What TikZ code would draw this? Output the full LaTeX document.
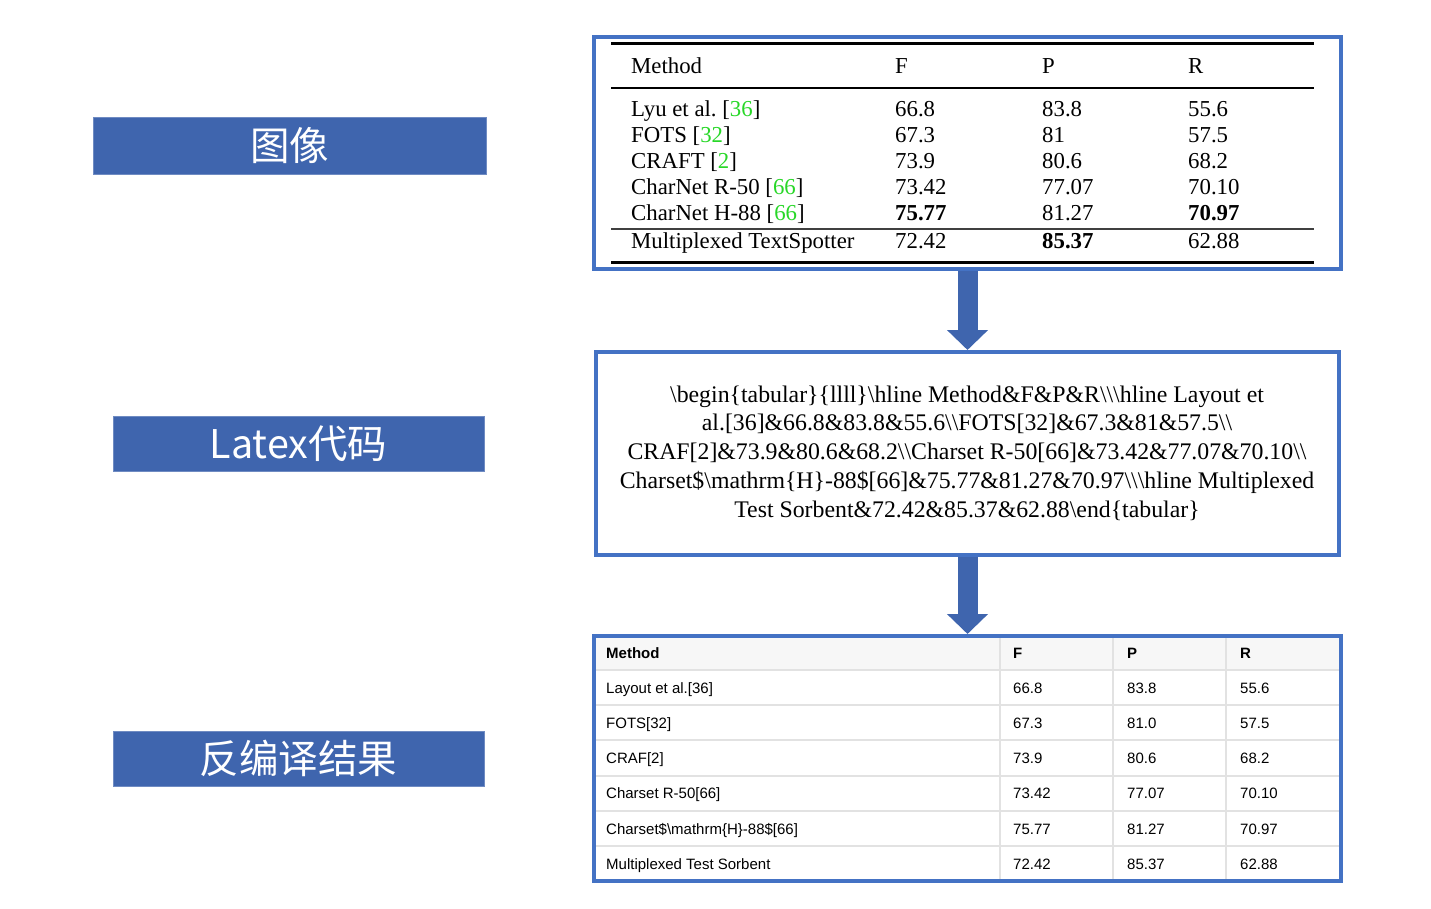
\documentclass[tikz,border=0pt]{standalone}
\usepackage{fontspec}
\setmainfont{Liberation Serif}
\newfontfamily\cjkfont{Noto Sans CJK SC}
\newfontfamily\tabsans{Liberation Sans}
\usetikzlibrary{arrows.meta}
\definecolor{frameblue}{RGB}{68,114,196}
\definecolor{labelblue}{RGB}{63,101,174}
\definecolor{citegreen}{RGB}{40,215,40}
\definecolor{gridgray}{RGB}{226,226,226}
\definecolor{headgray}{RGB}{247,247,247}
\newcommand{\cg}[1]{\textcolor{citegreen}{#1}}
\newcommand{\bs}{\textbackslash}
\frenchspacing
\tikzset{
  framebox/.style={draw=frameblue, line width=4pt, inner sep=0pt, fill=none},
  labelbox/.style={fill=labelblue, draw=labelblue!75!white, line width=0.8pt, text=white,
    font=\cjkfont\fontsize{39.5}{44}\selectfont, inner sep=0pt},
  blockarrow/.style={draw=labelblue, line width=20pt,
    -{Triangle[length=20pt,width=40pt]}},
  tt/.style={anchor=base west, inner sep=0pt, font=\fontsize{22.8}{27}\selectfont},
  bt/.style={anchor=base west, inner sep=0pt, font=\tabsans\fontsize{15}{18}\selectfont},
  bth/.style={bt, font=\tabsans\bfseries\fontsize{15}{18}\selectfont},
  gridline/.style={draw=gridgray, line width=1.6pt},
}
\begin{document}
\begin{tikzpicture}[x=1pt,y=-1pt]
\useasboundingbox (0,0) rectangle (1431,909);

% ---- left labels
\node[labelbox, minimum width=393pt, minimum height=57pt] (lab1) at (289.5,145.5) {图像};
\node[labelbox, minimum width=371pt, minimum height=55pt] (lab2) at (298.5,443.5) {Latex代码};
\node[labelbox, minimum width=371pt, minimum height=55pt] (lab3) at (298.5,758.5) {反编译结果};

% ---- top table (image)
\draw[line width=3pt] (611,44) -- (1314,44);
\draw[line width=1.8pt] (611,88) -- (1314,88);
\draw[line width=1.4pt, black!75] (611,229) -- (1314,229);
\draw[line width=3pt] (611,262) -- (1314,262);

\node[tt] (h1) at (631,74) {Method};
\node[tt] (h2) at (895,74) {F};
\node[tt] (h3) at (1042,74) {P};
\node[tt] (h4) at (1188,74) {R};

\node[tt] (a1) at (631,117) {Lyu et al. [\cg{36}]};
\node[tt] (a2) at (895,117) {66.8};
\node[tt] (a3) at (1042,117) {83.8};
\node[tt] (a4) at (1188,117) {55.6};

\node[tt] (b1) at (631,143) {FOTS [\cg{32}]};
\node[tt] (b2) at (895,143) {67.3};
\node[tt] (b3) at (1042,143) {81};
\node[tt] (b4) at (1188,143) {57.5};

\node[tt] (c1) at (631,169) {CRAFT [\cg{2}]};
\node[tt] (c2) at (895,169) {73.9};
\node[tt] (c3) at (1042,169) {80.6};
\node[tt] (c4) at (1188,169) {68.2};

\node[tt] (d1) at (631,195) {CharNet R-50 [\cg{66}]};
\node[tt] (d2) at (895,195) {73.42};
\node[tt] (d3) at (1042,195) {77.07};
\node[tt] (d4) at (1188,195) {70.10};

\node[tt] (e1) at (631,221) {CharNet H-88 [\cg{66}]};
\node[tt] (e2) at (895,221) {\textbf{75.77}};
\node[tt] (e3) at (1042,221) {81.27};
\node[tt] (e4) at (1188,221) {\textbf{70.97}};

\node[tt] (f1) at (631,248) {Multiplexed TextSpotter};
\node[tt] (f2) at (895,248) {72.42};
\node[tt] (f3) at (1042,248) {\textbf{85.37}};
\node[tt] (f4) at (1188,248) {62.88};

\node[framebox, minimum width=747pt, minimum height=232pt] (box1) at (967.5,153) {};

% ---- middle code box
\node[framebox, minimum width=743pt, minimum height=203pt] (box2) at (967.5,453.5) {};
\node[anchor=base, inner sep=0pt, align=center, font=\fontsize{23.8}{28.75}\selectfont] (code) at (967,517)
{\bs begin\{tabular\}\{llll\}\bs hline Method\&F\&P\&R\bs\bs\bs hline Layout et\\
 al.[36]\&66.8\&83.8\&55.6\bs\bs FOTS[32]\&67.3\&81\&57.5\bs\bs\\
 CRAF[2]\&73.9\&80.6\&68.2\bs\bs Charset R-50[66]\&73.42\&77.07\&70.10\bs\bs\\
 Charset\$\bs mathrm\{H\}-88\$[66]\&75.77\&81.27\&70.97\bs\bs\bs hline Multiplexed\\
 Test Sorbent\&72.42\&85.37\&62.88\bs end\{tabular\}};

% ---- bottom table
\fill[headgray] (596,638) rectangle (1339,670);
\foreach \yy in {670,705,740,776,811,846} \draw[gridline] (596,\yy) -- (1339,\yy);
\foreach \xx in {1000,1113,1226} \draw[gridline] (\xx,638) -- (\xx,879);

\node[bth] (H1) at (606,658) {Method};
\node[bth] (H2) at (1013,658) {F};
\node[bth] (H3) at (1127,658) {P};
\node[bth] (H4) at (1240,658) {R};

\node[bt] (A1) at (606,693) {Layout et al.[36]};
\node[bt] (A2) at (1013,693) {66.8};
\node[bt] (A3) at (1127,693) {83.8};
\node[bt] (A4) at (1240,693) {55.6};

\node[bt] (B1) at (606,728) {FOTS[32]};
\node[bt] (B2) at (1013,728) {67.3};
\node[bt] (B3) at (1127,728) {81.0};
\node[bt] (B4) at (1240,728) {57.5};

\node[bt] (C1) at (606,763) {CRAF[2]};
\node[bt] (C2) at (1013,763) {73.9};
\node[bt] (C3) at (1127,763) {80.6};
\node[bt] (C4) at (1240,763) {68.2};

\node[bt] (D1) at (606,798) {Charset R-50[66]};
\node[bt] (D2) at (1013,798) {73.42};
\node[bt] (D3) at (1127,798) {77.07};
\node[bt] (D4) at (1240,798) {70.10};

\node[bt] (E1) at (606,834) {Charset\$\bs mathrm\{H\}-88\$[66]};
\node[bt] (E2) at (1013,834) {75.77};
\node[bt] (E3) at (1127,834) {81.27};
\node[bt] (E4) at (1240,834) {70.97};

\node[bt] (F1) at (606,869) {Multiplexed Test Sorbent};
\node[bt] (F2) at (1013,869) {72.42};
\node[bt] (F3) at (1127,869) {85.37};
\node[bt] (F4) at (1240,869) {62.88};

\node[framebox, minimum width=747pt, minimum height=245pt] (box3) at (967.5,758.5) {};

% ---- arrows
\draw[blockarrow] (box1.south) -- (box2.north);
\draw[blockarrow] (box2.south) -- (box3.north);
\end{tikzpicture}
\end{document}
